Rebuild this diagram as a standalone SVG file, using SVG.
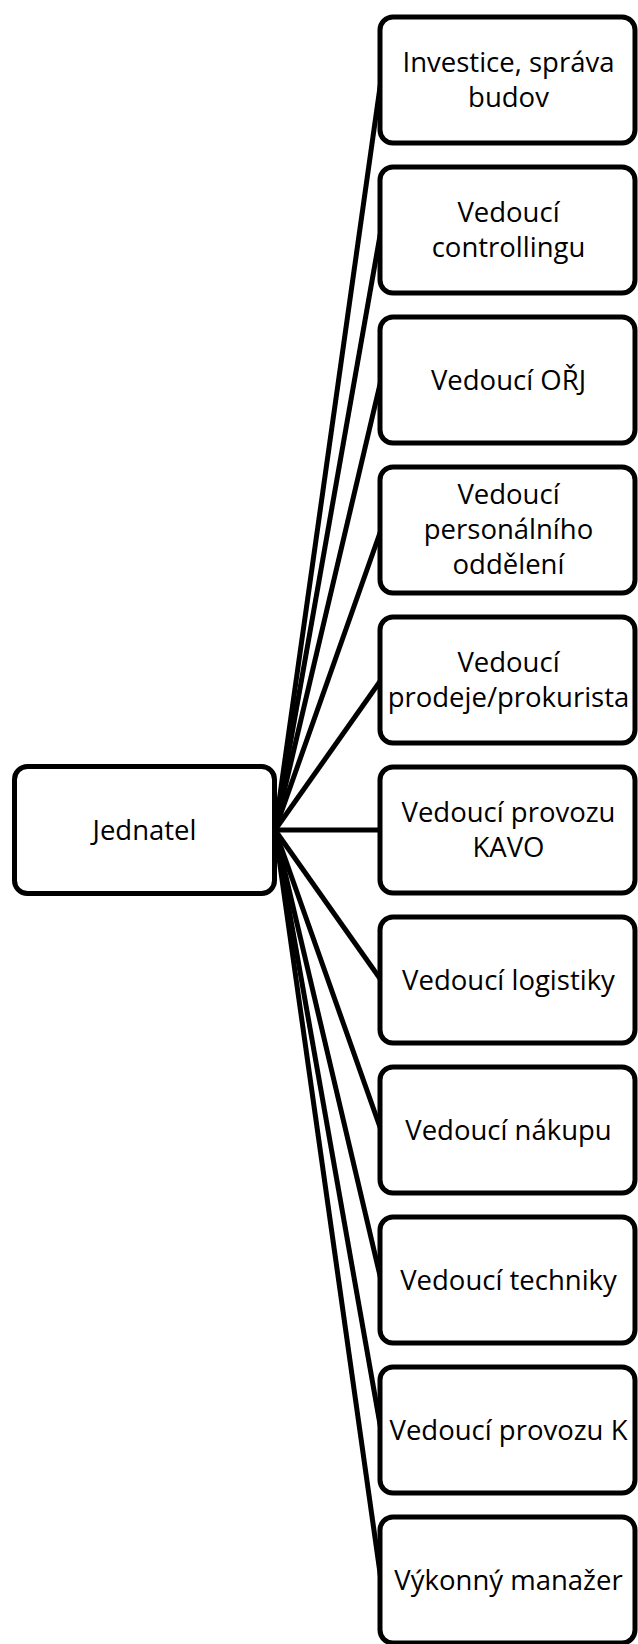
<svg xmlns="http://www.w3.org/2000/svg" width="638" height="1644" viewBox="0 0 638 1644">
<style>
.box{fill:#fff;stroke:#000;stroke-width:5}
.t{font-family:"Open Sans","Liberation Sans",sans-serif;font-size:27.5px;fill:#000;text-anchor:middle}
.c line{stroke:#000;stroke-width:5}
</style>
<rect width="638" height="1644" fill="#fff"/>
<g id="connectors" class="c">
<line x1="275" y1="830" x2="381" y2="80"/>
<line x1="275" y1="830" x2="381" y2="230"/>
<line x1="275" y1="830" x2="381" y2="380"/>
<line x1="275" y1="830" x2="381" y2="530"/>
<line x1="275" y1="830" x2="381" y2="680"/>
<line x1="275" y1="830" x2="381" y2="830"/>
<line x1="275" y1="830" x2="381" y2="980"/>
<line x1="275" y1="830" x2="381" y2="1130"/>
<line x1="275" y1="830" x2="381" y2="1280"/>
<line x1="275" y1="830" x2="381" y2="1430"/>
<line x1="275" y1="830" x2="381" y2="1580"/>
</g>
<g id="jednatel"><rect class="box" x="14.5" y="766.5" width="260" height="127" rx="13"/><text class="t" x="144.5" y="840">Jednatel</text></g>
<g id="n1"><rect class="box" x="380" y="17" width="255" height="126" rx="13"/><text class="t" x="508.5" y="72">Investice, správa</text><text class="t" x="508.5" y="107">budov</text></g>
<g id="n2"><rect class="box" x="380" y="167" width="255" height="126" rx="13"/><text class="t" x="508.5" y="222">Vedoucí</text><text class="t" x="508.5" y="257">controllingu</text></g>
<g id="n3"><rect class="box" x="380" y="317" width="255" height="126" rx="13"/><text class="t" x="508.5" y="390">Vedoucí OŘJ</text></g>
<g id="n4"><rect class="box" x="380" y="467" width="255" height="126" rx="13"/><text class="t" x="508.5" y="504">Vedoucí</text><text class="t" x="508.5" y="539">personálního</text><text class="t" x="508.5" y="574">oddělení</text></g>
<g id="n5"><rect class="box" x="380" y="617" width="255" height="126" rx="13"/><text class="t" x="508.5" y="672">Vedoucí</text><text class="t" x="508.5" y="707">prodeje/prokurista</text></g>
<g id="n6"><rect class="box" x="380" y="767" width="255" height="126" rx="13"/><text class="t" x="508.5" y="822">Vedoucí provozu</text><text class="t" x="508.5" y="857">KAVO</text></g>
<g id="n7"><rect class="box" x="380" y="917" width="255" height="126" rx="13"/><text class="t" x="508.5" y="990">Vedoucí logistiky</text></g>
<g id="n8"><rect class="box" x="380" y="1067" width="255" height="126" rx="13"/><text class="t" x="508.5" y="1140">Vedoucí nákupu</text></g>
<g id="n9"><rect class="box" x="380" y="1217" width="255" height="126" rx="13"/><text class="t" x="508.5" y="1290">Vedoucí techniky</text></g>
<g id="n10"><rect class="box" x="380" y="1367" width="255" height="126" rx="13"/><text class="t" x="508.5" y="1440">Vedoucí provozu K</text></g>
<g id="n11"><rect class="box" x="380" y="1517" width="255" height="126" rx="13"/><text class="t" x="508.5" y="1590">Výkonný manažer</text></g>
</svg>
